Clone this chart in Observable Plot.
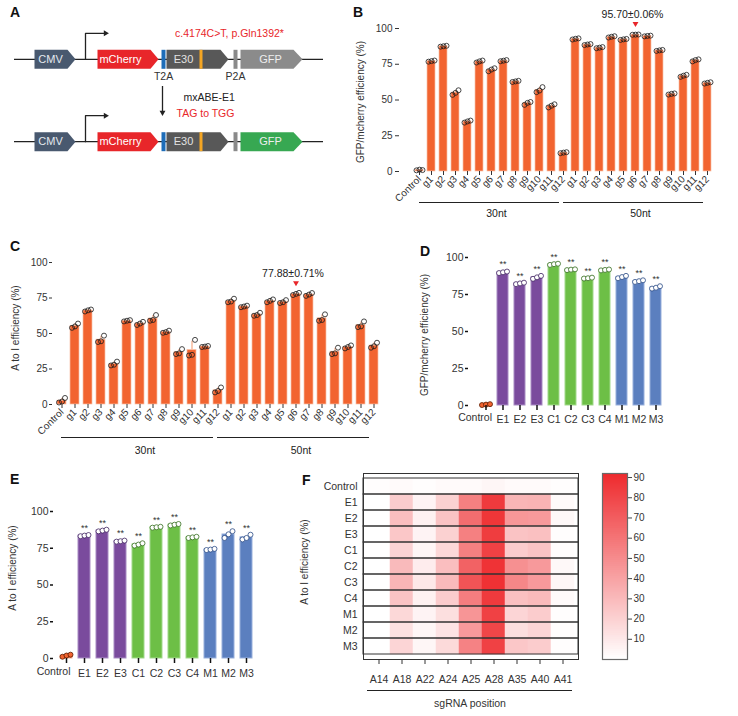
<!DOCTYPE html>
<html><head><meta charset="utf-8">
<script src="https://cdn.jsdelivr.net/npm/d3@7"></script>
<script src="https://cdn.jsdelivr.net/npm/@observablehq/plot@0.6"></script>
<style>
body{margin:0;background:#fff;}
#fig{position:relative;width:738px;height:716px;overflow:hidden;background:#fff;font-family:"Liberation Sans",Arial,Helvetica,sans-serif;color:#222;}
.p{position:absolute;}
.p svg{overflow:visible;display:block;}
.lt{position:absolute;font-weight:bold;font-size:14px;line-height:14px;color:#111;}
.yt{position:absolute;font-size:10px;line-height:10px;white-space:nowrap;transform:translate(-50%,-50%) rotate(-90deg);color:#333;}
</style></head><body><div id="fig"></div>
<script>
// ---------------- data ----------------
const guides = ["g1","g2","g3","g4","g5","g6","g7","g8","g9","g10","g11","g12"];
const lengths = ["30nt","50nt"];

// Panel B: GFP/mCherry efficiency (%), three replicates per bar
const gfpControl = [0.8, 1.3, 1.0];
const gfp30nt = [[76.8,77.2,77.6],[87.3,87.6,87.9],[53.6,55.0,56.8],[34.2,35.0,35.6],[76.2,77.0,77.6],[70.1,71.3,72.2],[77.1,77.5,77.9],[62.6,63.0,63.4],[46.6,48.0,48.6],[55.5,56.6,59.0],[44.8,46.0,47.0],[12.8,13.2,13.5]];
const gfp50nt = [[92.3,92.8,93.1],[88.4,88.8,89.1],[86.2,86.6,87.0],[93.7,94.2,94.6],[92.0,92.4,92.7],[95.6,95.7,95.8],[94.5,94.8,95.0],[84.3,84.7,85.0],[53.8,54.3,54.6],[66.2,67.0,67.6],[77.0,77.9,78.4],[61.5,62.0,62.4]];

// Panel C: A to I efficiency (%)
const aiControl = [1.4, 2.1, 4.6];
const ai30nt = [[54.0,55.0,57.0],[65.5,66.3,66.9],[44.0,44.5,48.5],[27.5,28.0,30.2],[58.5,59.0,59.4],[56.0,57.0,58.2],[59.0,59.5,63.0],[50.5,51.0,52.0],[35.5,36.0,39.0],[34.5,35.0,45.5],[40.5,40.8,41.2],[8.5,9.5,12.0]];
const ai50nt = [[72.0,72.5,74.5],[68.5,69.0,69.6],[62.5,63.0,64.6],[72.0,73.0,74.0],[71.5,72.0,73.5],[77.1,77.9,78.6],[76.5,77.4,78.5],[59.0,59.5,63.5],[35.5,36.0,40.0],[39.5,40.5,41.6],[54.5,55.0,58.5],[40.0,41.0,43.5]];

const gfpHighlight = {cat: "50nt g6", text: "95.70±0.06%"};
const aiHighlight = {cat: "50nt g6", text: "77.88±0.71%"};

// Panels D & E
const variants = ["Control","E1","E2","E3","C1","C2","C3","C4","M1","M2","M3"];
const variantFamily = ["Control","E","E","E","C","C","C","C","M","M","M"];
const variantSig = ["","**","**","**","**","**","**","**","**","**","**"];
const gfpByVariant = [[0.3,0.6,0.9],[89.5,90.0,90.5],[82.0,82.5,83.0],[85.6,86.6,87.6],[95.0,95.5,95.8],[91.5,91.8,92.0],[85.8,86.0,86.4],[91.3,91.6,91.9],[86.0,86.8,87.6],[83.5,84.0,84.6],[79.0,79.6,80.6]];
const aiByVariant = [[1.2,2.0,2.6],[83.2,83.6,84.0],[86.5,87.0,87.6],[79.5,79.8,80.2],[76.8,77.5,78.4],[89.0,89.3,89.6],[90.5,91.0,91.5],[82.0,82.4,82.8],[73.8,74.1,74.6],[82.0,84.5,86.6],[81.0,82.0,84.2]];

// Panel F heatmap
const sgPositions = ["A14","A18","A22","A24","A25","A28","A35","A40","A41"];
const heatRows = ["Control","E1","E2","E3","C1","C2","C3","C4","M1","M2","M3"];
const heatValues = [
  [1,2,1,2,2,4,2,2,1],
  [0,22,5,20,55,85,32,33,2],
  [0,28,6,26,63,87,45,44,3],
  [0,24,5,20,55,84,26,27,1],
  [0,19,4,17,55,82,22,26,1],
  [0,30,8,28,68,88,48,44,3],
  [0,32,10,30,74,89,52,44,4],
  [0,26,6,22,56,85,27,30,2],
  [0,17,5,14,46,82,18,22,1],
  [0,13,4,12,44,80,14,18,1],
  [0,18,4,16,54,82,24,22,1]
];
const colorbarTicks = [10,20,30,40,50,60,70,80,90];

// Panel A schematic (construct coordinates)
const constructs = [{id:"reporter", mid:58.8, gfp:"#8b8b8b"}, {id:"edited", mid:141.2, gfp:"#37a852"}];
const cassette = [
  {part:"CMV", start:34, end:75, tip:8, color:"#49596f", label:"CMV", labelAt:50, labelColor:"#e4e8ee"},
  {part:"mCherry", start:97, end:158, tip:8, color:"#e8262a", label:"mCherry", labelAt:120, labelColor:"#ffffff"},
  {part:"T2A", start:161, end:165, tip:0, color:"#1e6db8"},
  {part:"E30", start:166, end:228, tip:8, color:"#585858", label:"E30", labelAt:183, labelColor:"#e2e2e2"},
  {part:"stop", start:199, end:202, tip:0, color:"#f5a623"},
  {part:"P2A", start:233, end:237, tip:0, color:"#8a8a8a"},
  {part:"GFP", start:240, end:302, tip:9, color:null, label:"GFP", labelAt:270, labelColor:"#eeeeee"}
];
const schematicNotes = [
  {x:229, y:33, text:"c.4174C>T, p.Gln1392*", color:"#e8262a", anchor:"middle"},
  {x:163, y:76.5, text:"T2A", color:"#333", anchor:"middle"},
  {x:235, y:76.5, text:"P2A", color:"#333", anchor:"middle"},
  {x:183, y:97.5, text:"mxABE-E1", color:"#222", anchor:"start"},
  {x:176, y:113, text:"TAG to TGG", color:"#e8262a", anchor:"start"}
];

// ---------------- helpers ----------------
const FONT = '"Liberation Sans", Arial, Helvetica, sans-serif';
const ORANGE = "#f26430";
const FAM = {
  Control: {fill: ORANGE, edge: "#f8b396", dot: "#5a1a00", dotFill: ORANGE},
  E: {fill: "#7a4b9d", edge: "#a88cc3", dot: "#3f2260", dotFill: "#ffffff"},
  C: {fill: "#6dbf46", edge: "#a2d98b", dot: "#356d1e", dotFill: "#ffffff"},
  M: {fill: "#5b7fbf", edge: "#98b0dc", dot: "#2a4a85", dotFill: "#ffffff"}
};
const HEAT = {type:"linear", domain:[0,92], range:["#ffffff","#ee2a2d"], interpolate:"rgb"};
const fig = document.getElementById("fig");
function place(node, left, top) {
  const w = document.createElement("div");
  w.className = "p"; w.style.left = left + "px"; w.style.top = top + "px";
  w.appendChild(node); fig.appendChild(w);
}
function html(cls, text, left, top, extra) {
  const d = document.createElement("div");
  d.className = cls; d.textContent = text;
  d.style.left = left + "px"; d.style.top = top + "px";
  if (extra) Object.assign(d.style, extra);
  fig.appendChild(d);
}
const baseStyle = {fontFamily: FONT, fontSize: "10px", color: "#333", background: "transparent", overflow: "visible"};

// ---------------- Panel A ----------------
const polys = constructs.flatMap(c => cassette.flatMap(p => {
  const col = p.color ?? c.gfp, t = c.mid - 9.5, b = c.mid + 9.5;
  return [[p.start,t],[p.end-p.tip,t],[p.end,c.mid],[p.end-p.tip,b],[p.start,b]]
    .map(([x,y]) => ({id: c.id + p.part, x, y, color: col}));
}));
const blockLabels = constructs.flatMap(c => cassette.filter(p => p.label).map(p => ({x:p.labelAt, y:c.mid, text:p.label, color:p.labelColor})));
const promoter = constructs.flatMap(c => [{id:c.id, x:85, y:c.mid},{id:c.id, x:85, y:c.mid-26},{id:c.id, x:104, y:c.mid-26}]);
const plotA = Plot.plot({
  width: 340, height: 180, margin: 0,
  style: baseStyle,
  x: {domain:[0,340], range:[0,340], axis:null},
  y: {domain:[0,180], range:[0,180], axis:null},
  color: {type:"identity"},
  marks: [
    Plot.ruleY(constructs, {y:"mid", x1:14, x2:323, stroke:"#222", strokeWidth:1.3}),
    Plot.line(promoter, {x:"x", y:"y", z:"id", stroke:"#222", strokeWidth:1.3}),
    Plot.dot(constructs, {x:105, y: c => c.mid-26, symbol:"triangle", rotate:90, r:2.2, fill:"#222", stroke:"none"}),
    Plot.line(polys, {x:"x", y:"y", z:"id", fill:"color", stroke:"none"}),
    Plot.text(blockLabels, {x:"x", y:"y", text:"text", fill:"color", fontSize:11}),
    Plot.ruleX([162], {y1:86, y2:111, stroke:"#222", strokeWidth:1.3}),
    Plot.dot([162], {x: d => d, y:112, symbol:"triangle", rotate:180, r:2.2, fill:"#222", stroke:"none"}),
    Plot.text(schematicNotes.filter(n => n.anchor === "middle"), {x:"x", y:"y", text:"text", fill:"color", fontSize:10.5}),
    Plot.text(schematicNotes.filter(n => n.anchor === "start"), {x:"x", y:"y", text:"text", fill:"color", fontSize:10.5, textAnchor:"start"})
  ]
});
place(plotA, 0, 0);

// ---------------- Panels B & C ----------------
function screenRows(ctrl, s30, s50) {
  const rows = [{cat:"Control", reps: ctrl}];
  [s30, s50].forEach((series, j) => series.forEach((reps, i) => rows.push({cat: `${lengths[j]} ${guides[i]}`, reps})));
  return rows.map(r => ({...r, mean: d3.mean(r.reps), sd: d3.deviation(r.reps), max: d3.max(r.reps)}));
}
const groupSpans = [
  {label:"30nt", from:"Control", to:"30nt g11", mid:"30nt g6"},
  {label:"50nt", from:"30nt g12", to:"50nt g11", mid:"50nt g6"}
];
function screenPlot(rows, highlight, cfg) {
  const pts = rows.flatMap(r => r.reps.map((v,k) => ({cat:r.cat, v, k})));
  const annot = {...highlight, value: rows.find(r => r.cat === highlight.cat).mean};
  return Plot.plot({
    width: cfg.width, height: cfg.height,
    marginLeft: cfg.ml, marginRight: cfg.mr, marginTop: cfg.mt, marginBottom: cfg.mb,
    style: baseStyle,
    x: {type:"band", domain: rows.map(r => r.cat), paddingInner:0.3, paddingOuter:cfg.po, align:0.5},
    y: {domain:[0,100]},
    marks: [
      Plot.ruleX(rows, {x:"cat", y1:"mean", y2: r => r.mean + r.sd, stroke:"#f6a984", strokeWidth:1.2}),
      Plot.barY(rows, {x:"cat", y:"mean", fill:ORANGE, stroke:"#f9c0a6", strokeWidth:0.7}),
      ...[-3,0,3].map((dx,k) => Plot.dot(pts.filter(p => p.k === k), {x:"cat", y:"v", dx, r:2.5, fill:"none", stroke:"#1a1a1a", strokeWidth:0.8})),
      Plot.axisY({ticks:[0,25,50,75,100], tickSize:cfg.ts, tickPadding:cfg.tp, line:true, label:null, fontSize:10}),
      Plot.axisX({tickSize:4, tickPadding:2, tickRotate:-45, tickFormat: d => d.split(" ").pop(), line:true, label:null, fontSize:10}),
      Plot.ruleY(groupSpans, {y:0, x1:"from", x2:"to", dx:4, dy:cfg.gdy, stroke:"#222", strokeWidth:1.2}),
      Plot.text(groupSpans, {x:"mid", y:0, text:"label", dx:5, dy:cfg.gty, fontSize:10.5, fill:"#222"}),
      Plot.dot([annot], {x:"cat", y:"value", dy:-11, symbol:"triangle", rotate:180, r:2.2, fill:"#e8262a", stroke:"none"}),
      Plot.text([annot], {x:"cat", y:"value", dy:-20, dx:-3, text:"text", fontSize:10.5, fill:"#222"})
    ]
  });
}
place(screenPlot(screenRows(gfpControl, gfp30nt, gfp50nt), gfpHighlight,
  {width:368, height:220, ml:29, mr:11, mt:28, mb:49, po:0.305, ts:4, tp:3, gdy:31, gty:42}), 370, 0);
place(screenPlot(screenRows(aiControl, ai30nt, ai50nt), aiHighlight,
  {width:390, height:220, ml:52, mr:7, mt:22, mb:56, po:0.38, ts:3, tp:2, gdy:33, gty:46}), 0, 240);

// ---------------- Panels D & E ----------------
function variantPlot(vals, cfg) {
  const rows = variants.map((cat,i) => ({cat, fam: variantFamily[i], reps: vals[i], mean: d3.mean(vals[i]), max: d3.max(vals[i]), sig: variantSig[i]}));
  const pts = rows.flatMap(r => r.reps.map((v,k) => ({cat:r.cat, fam:r.fam, v, k})));
  return Plot.plot({
    width: cfg.width, height: cfg.height,
    marginLeft: cfg.ml, marginRight: cfg.mr, marginTop: cfg.mt, marginBottom: cfg.mb,
    style: baseStyle,
    color: {type:"identity"},
    x: {type:"band", domain: variants, paddingInner: cfg.pi, paddingOuter: cfg.po, align:0.5},
    y: {domain:[0,100]},
    marks: [
      Plot.barY(rows, {x:"cat", y:"mean", fill: r => FAM[r.fam].fill, stroke: r => FAM[r.fam].edge, strokeWidth:1}),
      ...[-4,0,4].map((dx,k) => Plot.dot(pts.filter(p => p.k === k), {x:"cat", y:"v", dx, r:2.5, fill: p => FAM[p.fam].dotFill, stroke: p => FAM[p.fam].dot, strokeWidth:0.8})),
      Plot.text(rows.filter(r => r.sig), {x:"cat", y:"max", text:"sig", dy:-7, fontSize:9, fill:"#333"}),
      Plot.axisY({ticks:[0,25,50,75,100], tickSize:3, tickPadding:2, line:true, strokeWidth:1.5, stroke:"#111", label:null, fontSize:10.5}),
      Plot.axisX({tickSize:5, tickPadding:cfg.xp, tickFormat: d => d === "Control" ? "" : d, line:true, strokeWidth:1.5, stroke:"#111", label:null, fontSize:10.5}),
      Plot.text(["Control"], {x: d => d, frameAnchor:"bottom", dy:cfg.cdy, dx:cfg.cdx, textAnchor:"end", fontSize:10.5, fill:"#333"})
    ]
  });
}
place(variantPlot(gfpByVariant, {width:298, height:190, ml:28, mr:64, mt:12, mb:30, pi:0.333, po:0.39, xp:5, cdy:15, cdx:6}), 440, 245);
place(variantPlot(aiByVariant, {width:250, height:195, ml:33, mr:12, mt:16, mb:32, pi:0.337, po:0.33, xp:6, cdy:16, cdx:4}), 20, 495);

// ---------------- Panel F ----------------
const heatCells = heatRows.flatMap((row,i) => sgPositions.map((pos,j) => ({row, pos, v: heatValues[i][j]})));
const plotF = Plot.plot({
  width:290, height:251, marginLeft:63, marginRight:12, marginTop:8, marginBottom:57,
  style: baseStyle,
  x: {type:"band", domain: sgPositions, padding:0},
  y: {type:"band", domain: heatRows, padding:0},
  color: HEAT,
  marks: [
    Plot.cell(heatCells, {x:"pos", y:"row", fill:"v", stroke:"v", strokeWidth:0.5}),
    Plot.cell(heatRows, {y: d => d, fill:"none", stroke:"#333", strokeWidth:1}),
    Plot.frame({stroke:"#333", strokeWidth:1}),
    Plot.axisX({tickSize:5, tickPadding:11, label:null, fontSize:10.5}),
    Plot.axisY({tickSize:0, tickPadding:6, label:null, fontSize:10.5})
  ]
});
place(plotF, 300, 465);

const rampStops = d3.range(0, 92, 1);
const plotBar = Plot.plot({
  width:70, height:200, marginLeft:12, marginRight:33, marginTop:8, marginBottom:6,
  style: baseStyle,
  x: {domain:[0,1], axis:null},
  y: {domain:[0,92], axis:null},
  color: HEAT,
  marks: [
    Plot.rect(rampStops, {x1:0, x2:1, y1: d => d, y2: d => Math.min(d + 1.5, 92), fill: d => d + 0.5}),
    Plot.frame({stroke:"#6a6a6a", strokeWidth:1.2}),
    Plot.axisY({anchor:"right", ticks: colorbarTicks, tickSize:4, tickPadding:2, label:null, fontSize:10, stroke:"#444"})
  ]
});
place(plotBar, 590, 465);

// ---------------- overlays: panel letters, axis titles ----------------
html("lt", "A", 10, 5);
html("lt", "B", 353, 5);
html("lt", "C", 10, 239);
html("lt", "D", 420, 244);
html("lt", "E", 10, 472);
html("lt", "F", 302, 473);
html("yt", "GFP/mcherry efficiency (%)", 361, 102);
html("yt", "A to I efficiency (%)", 16, 328);
html("yt", "GFP/mcherry efficiency (%)", 425, 335);
html("yt", "A to I efficiency (%)", 13, 568);
html("yt", "A to I efficiency (%)", 305, 562);
const ul = document.createElement("div");
Object.assign(ul.style, {position:"absolute", left:"367px", top:"690px", width:"205px", borderTop:"1.2px solid #222"});
fig.appendChild(ul);
html("yt", "sgRNA position", 470, 703, {transform:"translate(-50%,-50%)", fontSize:"10.5px"});
</script></body></html>
